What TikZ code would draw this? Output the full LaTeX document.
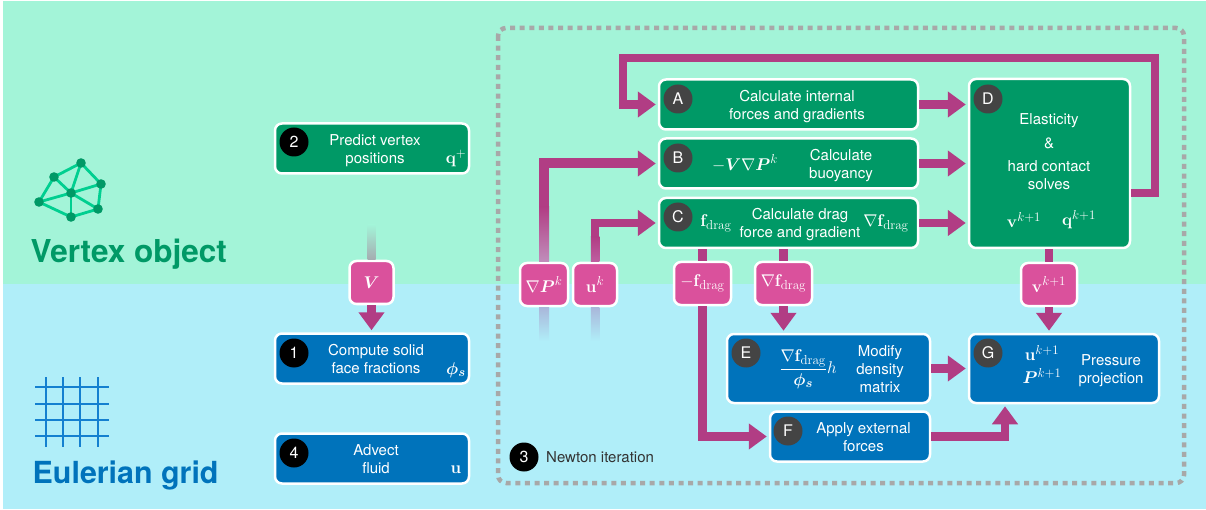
\documentclass[tikz,border=0pt]{standalone}
\usepackage{fix-cm}
\usepackage{amsmath}
\usepackage[no-math]{fontspec}
\setmainfont{TeX Gyre Heros}
\DeclareMathSizes{17}{17}{13}{10}
\usetikzlibrary{arrows.meta}
\definecolor{vertexbg}{HTML}{A3F4D8}
\definecolor{gridbg}{HTML}{B0EEF9}
\definecolor{vertexc}{HTML}{009966}
\definecolor{gridc}{HTML}{0073BB}
\definecolor{meshc}{HTML}{00CF90}
\definecolor{gridline}{HTML}{1480D0}
\definecolor{pinkc}{HTML}{DA519C}
\definecolor{flowc}{HTML}{B13D84}
\definecolor{framec}{HTML}{A8A8A8}
\definecolor{darkc}{HTML}{444444}
\definecolor{fadeP}{HTML}{C08EBB}
\definecolor{fadeU}{HTML}{BE5FA0}
\definecolor{fadeV}{HTML}{A5ABB0}
\definecolor{fadeB}{HTML}{A9B7DA}
\tikzset{
  box/.style={rectangle,draw=white,line width=2.5pt,rounded corners=7pt,inner sep=0pt},
  greenbox/.style={box,fill=vertexc},
  bluebox/.style={box,fill=gridc},
  pinkbox/.style={box,fill=pinkc,text=white,font=\fontsize{17}{18}\selectfont,minimum height=43pt},
  txt/.style={text=white,align=center,inner sep=0pt,font=\fontsize{15}{18}\selectfont},
  mathtxt/.style={text=white,inner sep=0pt,font=\fontsize{17}{18}\selectfont},
  numdot/.style={circle,fill=black,text=white,minimum size=29pt,inner sep=0pt,font=\fontsize{16}{18}\selectfont},
  letdot/.style={numdot,fill=darkc},
  flow/.style={draw=flowc,line width=8.5pt},
  flowtip/.style={flow,-{Triangle[length=18pt,width=25pt]},shorten >=2pt},
}
\begin{document}
\begin{tikzpicture}[x=1pt,y=-1pt]
  \useasboundingbox (0,0) rectangle (1206,510);
  \fill [vertexbg] (3,1) rectangle (1206,284);
  \fill [gridbg] (3,284) rectangle (1206,509);
  \draw [framec,line width=4.5pt,dash pattern=on 5pt off 4.6pt,rounded corners=8pt] (498,28) rectangle (1184,483);%iteration frame
  % mesh icon
  \foreach \n/\x/\y in {a/81/163,b/101/184,c/98/209,d/71/217,e/39/202,f/54/177,g/71/193}
    \coordinate (m\n) at (\x,\y);
  \foreach \p/\q in {f/a,a/b,b/c,c/d,d/e,e/f,f/g,a/g,b/g,c/g,d/g,e/g}
    \draw [line width=2.8pt,meshc] (m\p)--(m\q);
  \foreach \n in {a,b,c,d,e,f,g}
    \fill [vertexc] (m\n) circle (4.8);
  % grid icon
  \foreach \y in {387,404,420,436}
    \draw [line width=1.3pt,gridline] (35,\y)--(109,\y);
  \foreach \x in {46,63,80,98}
    \draw [line width=1.3pt,gridline] (\x,377)--(\x,447);
  \node [anchor=base west,inner sep=0pt,text=vertexc,font=\fontsize{31.5}{34}\selectfont\bfseries] (vertextitle) at (30.5,262.5) {Vertex object};
  \node [anchor=base west,inner sep=0pt,text=gridc,font=\fontsize{30.4}{34}\selectfont\bfseries] (gridtitle) at (32.5,483) {Eulerian grid};
  % left column
  \node [greenbox,minimum width=194pt,minimum height=50pt] (predict) at (372,148.5) {};
  \node [bluebox,minimum width=194pt,minimum height=50pt] (solid) at (372,358.5) {};
  \node [bluebox,minimum width=194pt,minimum height=50pt] (advect) at (372,458.5) {};
  \node [pinkbox,minimum width=44pt] (vol) at (371.5,282.5) {$\boldsymbol{V}$};
  % newton boxes
  \node [greenbox,minimum width=259pt,minimum height=50pt] (A) at (788.5,104.5) {};
  \node [greenbox,minimum width=259pt,minimum height=50pt] (B) at (788.5,163.5) {};
  \node [greenbox,minimum width=259pt,minimum height=50pt] (C) at (788.5,223) {};
  \node [greenbox,minimum width=161pt,minimum height=169pt] (D) at (1049.5,163.5) {};
  \node [bluebox,minimum width=203pt,minimum height=69pt] (E) at (828.5,368.5) {};
  \node [bluebox,minimum width=160pt,minimum height=50pt] (F) at (850,436.5) {};
  \node [bluebox,minimum width=190pt,minimum height=69pt] (G) at (1064,368.5) {};
  % values
  \node [pinkbox,minimum width=48pt] (gradP) at (544,284.5) {$\nabla\boldsymbol{P}^{k}$};
  \node [pinkbox,minimum width=44pt] (uk) at (595,284.5) {$\mathbf{u}^{k}$};
  \node [pinkbox,minimum width=57pt] (fdrag) at (702.5,283.5) {$-\mathbf{f}_{\mathrm{drag}}$};
  \node [pinkbox,minimum width=57pt] (gradf) at (783.5,283.5) {$\nabla\mathbf{f}_{\mathrm{drag}}$};
  \node [pinkbox,minimum width=56pt] (vk) at (1049,284.5) {$\mathbf{v}^{k+1}$};
  % connectors
  \draw [flowtip] (vol.south)--(solid.north -| vol.south);
  \draw [flowtip] (D.east |- 0,193) -| (1155,58) -| (623,104.5) -- (A.west);%feedback
  \draw [flowtip] (A.east)--(A.east -| D.west);
  \draw [flowtip] (B.east)--(B.east -| D.west);
  \draw [flowtip] (C.east)--(C.east -| D.west);
  \draw [flowtip,line width=10pt] (gradP.north) |- (B.west);
  \draw [flowtip] (uk.north) |- (C.west);
  \draw [flow] (C.south -| fdrag.north)--(fdrag.north);
  \draw [flow] (C.south -| gradf.north)--(gradf.north);
  \draw [flow] (D.south -| vk.north)--(vk.north);
  \draw [flowtip] (fdrag.south) |- (F.west);
  \draw [flowtip] (gradf.south)--(E.north -| gradf.south);
  \draw [flowtip] (vk.south)--(G.north -| vk.south);
  \draw [flowtip] (E.east)--(G.west);
  \draw [flowtip] (F.east) -| ([xshift=-59pt]G.south);
  % fading stubs
  \shade [top color=vertexbg,bottom color=fadeV] ([xshift=-4pt]vol.north) ++(0,-35) rectangle ++(8,35);
  \shade [top color=flowc,bottom color=fadeP] ([xshift=-5pt]gradP.north) ++(0,-55) rectangle ++(10,55);
  \shade [top color=flowc,bottom color=fadeU] ([xshift=-4.25pt]uk.north) ++(0,-25) rectangle ++(8.5,25);
  \shade [top color=fadeB,bottom color=gridbg] ([xshift=-5pt]gradP.south) rectangle ++(10,34);
  \shade [top color=fadeB,bottom color=gridbg] ([xshift=-4.25pt]uk.south) rectangle ++(8.5,34);
  % box texts
  \node [txt] (predicttxt) at (375,151) {Predict vertex\\positions};
  \node [txt] (solidtxt) at (376,359) {Compute solid\\face fractions};
  \node [txt] (advecttxt) at (376,459) {Advect\\fluid};
  \node [txt] (Atxt) at (797,107) {Calculate internal\\forces and gradients};
  \node [txt] (Btxt) at (841,166) {Calculate\\buoyancy};
  \node [txt] (Ctxt) at (800,225) {Calculate drag\\force and gradient};
  \node [txt] (Dtxt1) at (1049,121) {Elasticity};
  \node [txt] (Dtxt2) at (1049,143) {\&};
  \node [txt] (Dtxt3) at (1049,175) {hard contact\\solves};
  \node [txt] (Etxt) at (880,369) {Modify\\density\\matrix};
  \node [txt] (Ftxt) at (863.5,437) {Apply external\\forces};
  \node [txt] (Gtxt) at (1111,371) {Pressure\\projection};
  \node [txt,text=black!80,anchor=west] (newton) at (546,457) {Newton iteration};
  % box symbols
  \node [mathtxt] (qplus) at (456,158) {$\mathbf{q}^{+}$};
  \node [mathtxt] (phis) at (456,370) {$\boldsymbol{\phi_{s}}$};
  \node [mathtxt] (ufluid) at (456,470) {$\mathbf{u}$};
  \node [mathtxt] (Bsym) at (745,163) {$-\boldsymbol{V}\nabla\boldsymbol{P}^{k}$};
  \node [mathtxt] (Csym1) at (716,223) {$\mathbf{f}_{\mathrm{drag}}$};
  \node [mathtxt] (Csym2) at (886,223) {$\nabla\mathbf{f}_{\mathrm{drag}}$};
  \node [mathtxt] (Dsym1) at (1024,220) {$\mathbf{v}^{k+1}$};
  \node [mathtxt] (Dsym2) at (1079,220) {$\mathbf{q}^{k+1}$};
  \node [mathtxt] (Esym) at (808,369) {$\dfrac{\nabla\mathbf{f}_{\mathrm{drag}}}{\boldsymbol{\phi_{s}}}h$};
  \node [mathtxt] (Gsym1) at (1042,353) {$\mathbf{u}^{k+1}$};
  \node [mathtxt] (Gsym2) at (1042,376) {$\boldsymbol{P}^{k+1}$};
  % badges
  \node [numdot] (n2) at (294,142) {2};
  \node [numdot] (n1) at (294,353) {1};
  \node [numdot] (n4) at (294,453) {4};
  \node [numdot] (n3) at (524,457) {3};
  \node [letdot] (la) at (678,99) {A};
  \node [letdot] (lb) at (678,158) {B};
  \node [letdot] (lc) at (678,217) {C};
  \node [letdot] (ld) at (988,99) {D};
  \node [letdot] (le) at (746,353) {E};
  \node [letdot] (lf) at (788,431) {F};
  \node [letdot] (lg) at (988,353) {G};
\end{tikzpicture}
\end{document}
